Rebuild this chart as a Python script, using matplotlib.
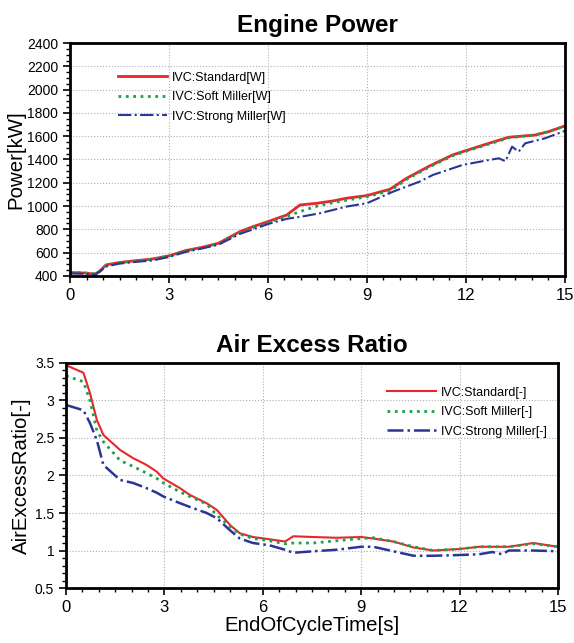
import matplotlib
matplotlib.use("Agg")
import matplotlib.pyplot as plt
from matplotlib.ticker import MultipleLocator

plt.rcParams['font.family'] = ['Liberation Sans', 'DejaVu Sans']

# engine power [kW]
t_pw = [0, 0.4, 0.76, 0.9, 1.09, 1.5, 2.0, 2.5, 3.0, 3.5, 4.0, 4.5, 5.15, 5.55, 6.0, 6.57,
        6.97, 7.5, 8.0, 8.38, 9.0, 9.7, 10.2, 10.9, 11.6, 12.0, 12.7, 13.3, 14.1, 14.5, 15.0]
pw_std = [428, 425, 415, 440, 494, 515, 530, 545, 572, 617, 645, 680, 780, 823, 866, 923,
          1009, 1024, 1045, 1067, 1090, 1144, 1238, 1344, 1439, 1476, 1539, 1591, 1610, 1638, 1688]
pw_soft = [430, 427, 417, 440, 488, 512, 528, 542, 570, 612, 642, 676, 772, 815, 858, 910,
           952, 1000, 1030, 1050, 1080, 1130, 1228, 1336, 1432, 1470, 1532, 1585, 1612, 1640, 1685]

t_pw_b = [0, 0.4, 0.76, 0.9, 1.09, 1.5, 2.0, 2.5, 3.0, 3.5, 4.0, 4.5, 5.15, 5.55, 6.0, 6.57,
          7.02, 7.58, 8.38, 9.0, 9.8, 10.6, 11.0, 11.9, 12.6, 13.0, 13.2, 13.4, 13.6, 13.8,
          14.4, 15.0]
pw_strong = [420, 418, 410, 435, 480, 505, 520, 532, 562, 605, 635, 668, 760, 800, 845, 890,
             909, 938, 995, 1024, 1124, 1210, 1267, 1353, 1390, 1410, 1385, 1510, 1467, 1539,
             1582, 1645]

# air excess ratio [-]
t_ae = [0, 0.53, 0.73, 0.94, 1.14, 1.65, 2.05, 2.46, 2.77, 2.97, 3.48, 3.78, 4.29, 4.6, 5.0,
        5.3, 5.7, 6.2, 6.68, 6.93, 7.54, 8.25, 9.0, 9.37, 9.98, 10.6, 11.2, 12.0, 12.6, 13.0,
        13.3, 13.5, 14.25, 15.0]
ae_std = [3.47, 3.37, 3.10, 2.74, 2.54, 2.34, 2.23, 2.14, 2.05, 1.96, 1.83, 1.74, 1.63, 1.54,
          1.34, 1.23, 1.18, 1.15, 1.12, 1.19, 1.18, 1.17, 1.18, 1.16, 1.12, 1.04, 1.00, 1.02,
          1.05, 1.05, 1.05, 1.05, 1.10, 1.05]
ae_soft = [3.33, 3.25, 3.00, 2.60, 2.45, 2.20, 2.12, 2.03, 1.96, 1.90, 1.78, 1.72, 1.62, 1.47,
           1.32, 1.22, 1.16, 1.13, 1.09, 1.10, 1.10, 1.13, 1.16, 1.17, 1.12, 1.05, 1.00, 1.02,
           1.05, 1.05, 1.05, 1.05, 1.09, 1.05]
ae_strong = [2.94, 2.87, 2.70, 2.47, 2.14, 1.94, 1.90, 1.83, 1.77, 1.72, 1.63, 1.58, 1.50, 1.43,
             1.27, 1.16, 1.10, 1.07, 1.01, 0.97, 0.99, 1.01, 1.05, 1.05, 0.99, 0.93, 0.93, 0.94,
             0.95, 0.98, 0.95, 1.00, 1.00, 0.99]

red = '#e8262b'
green = '#1aa34a'
blue = '#2b3595'

fig = plt.figure(figsize=(5.74, 6.43), dpi=100)
ax1 = fig.add_axes([0.122, 0.571, 0.862, 0.362])
ax2 = fig.add_axes([0.115, 0.0855, 0.857, 0.35])

ax1.plot(t_pw, pw_std, color=red, lw=2, label='IVC:Standard[W]')
ax1.plot(t_pw, pw_soft, color=green, lw=2, ls=':', label='IVC:Soft Miller[W]')
ax1.plot(t_pw_b, pw_strong, color=blue, lw=1.5, ls='-.', label='IVC:Strong Miller[W]')
ax1.set_xlim(0, 15)
ax1.set_ylim(400, 2400)
ax1.yaxis.set_major_locator(MultipleLocator(200))
ax1.yaxis.set_minor_locator(MultipleLocator(50))
ax1.set_ylabel('Power[kW]', fontsize=14.7, labelpad=1)
ax1.set_title('Engine Power', fontsize=17.5, fontweight='bold', pad=8)
ax1.legend(loc='upper left', bbox_to_anchor=(0.075, 0.925), frameon=False, fontsize=9,
           handlelength=3.9, labelspacing=0.6, handletextpad=0.4)

ax2.plot(t_ae, ae_std, color=red, lw=1.5, label='IVC:Standard[-]')
ax2.plot(t_ae, ae_soft, color=green, lw=2, ls=':', label='IVC:Soft Miller[-]')
ax2.plot(t_ae, ae_strong, color=blue, lw=1.8, ls='-.', label='IVC:Strong Miller[-]')
ax2.set_xlim(0, 15)
ax2.set_ylim(0.5, 3.5)
ax2.yaxis.set_major_locator(MultipleLocator(0.5))
ax2.yaxis.set_minor_locator(MultipleLocator(0.1))
ax2.yaxis.set_major_formatter(plt.FuncFormatter(lambda v, p: f'{v:g}'))
ax2.set_ylabel('AirExcessRatio[-]', fontsize=14.7, labelpad=3)
ax2.set_xlabel('EndOfCycleTime[s]', fontsize=14.7, labelpad=1)
ax2.set_title('Air Excess Ratio', fontsize=17.5, fontweight='bold', pad=8)
ax2.legend(loc='upper right', bbox_to_anchor=(1.0, 0.945), frameon=False, fontsize=9,
           handlelength=3.9, labelspacing=0.6, handletextpad=0.4)

for ax in (ax1, ax2):
    ax.xaxis.set_major_locator(MultipleLocator(3))
    ax.xaxis.set_minor_locator(MultipleLocator(0.5))
    ax.grid(True, which='major', ls=':', color='#b0b0b0', lw=0.8)
    ax.tick_params(axis='x', which='major', labelsize=12, length=5, width=1.2, direction='out')
    ax.tick_params(axis='y', which='major', labelsize=10, length=5, width=1.2, direction='out')
    ax.tick_params(which='minor', length=3, width=1, direction='out')
    for s in ax.spines.values():
        s.set_linewidth(2)

plt.savefig('out.png', dpi=100)
